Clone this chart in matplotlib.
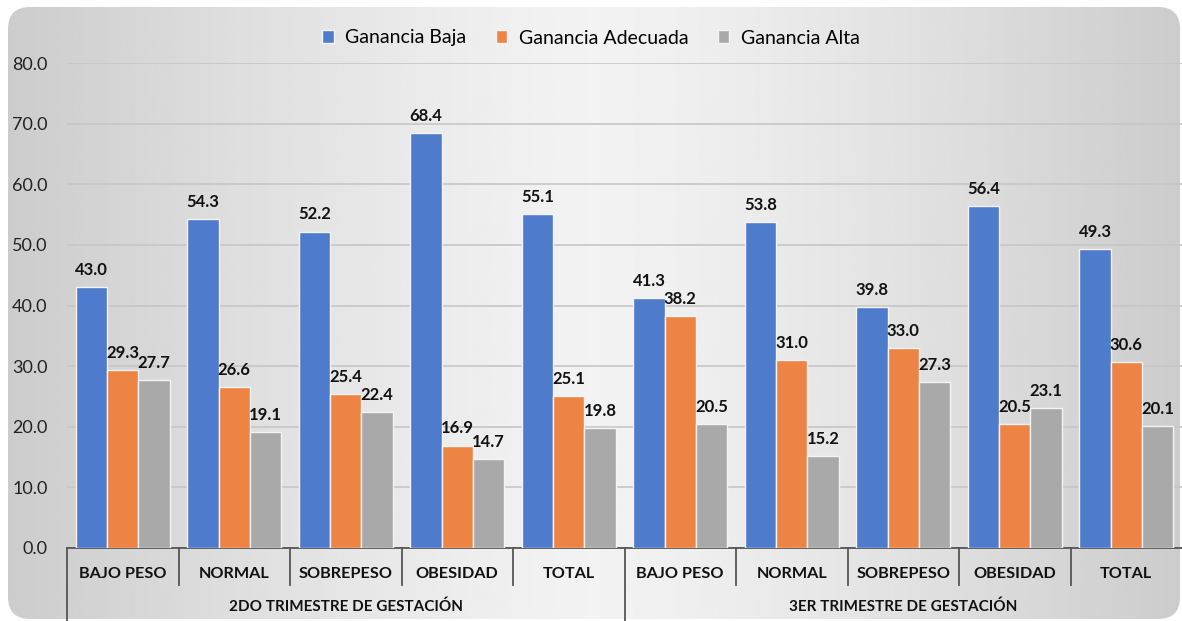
import matplotlib.pyplot as plt
import numpy as np
from matplotlib.patches import FancyBboxPatch
import matplotlib.transforms as mtrans

plt.rcParams['font.family'] = ['Lato', 'DejaVu Sans']

categorias = ['BAJO PESO', 'NORMAL', 'SOBREPESO', 'OBESIDAD', 'TOTAL',
              'BAJO PESO', 'NORMAL', 'SOBREPESO', 'OBESIDAD', 'TOTAL']
grupos = ['2DO TRIMESTRE DE GESTACIÓN', '3ER TRIMESTRE DE GESTACIÓN']
series = ['Ganancia Baja', 'Ganancia Adecuada', 'Ganancia Alta']
baja = [43.0, 54.3, 52.2, 68.4, 55.1, 41.3, 53.8, 39.8, 56.4, 49.3]
adecuada = [29.3, 26.6, 25.4, 16.9, 25.1, 38.2, 31.0, 33.0, 20.5, 30.6]
alta = [27.7, 19.1, 22.4, 14.7, 19.8, 20.5, 15.2, 27.3, 23.1, 20.1]
colores = ['#4f7bcd', '#ee8444', '#a9a9a9']

W, H = 1182, 621
fig = plt.figure(figsize=(W / 100, H / 100), dpi=100)

# fondo degradado con esquinas redondeadas
bg = fig.add_axes([0, 0, 1, 1], zorder=-10)
bg.set_xlim(0, W)
bg.set_ylim(0, H)
bg.axis('off')
xs = np.linspace(-1, 1, 400)
grad = 0.95 - 0.15 * np.abs(xs) ** 1.3
img = bg.imshow(np.tile(grad, (10, 1)), cmap='gray', vmin=0, vmax=1,
                extent=[8, 1180, 2, 614], aspect='auto')
box = FancyBboxPatch((8, 2), 1172, 612, boxstyle='round,pad=0,rounding_size=22',
                     facecolor='none', edgecolor='none', transform=bg.transData)
bg.add_patch(box)
img.set_clip_path(box)

ax = fig.add_axes([67 / W, (H - 548) / H, (W - 67) / W, 485 / H])
ax.set_facecolor('none')
x = np.arange(len(categorias))
bw = 0.28
for i, (vals, col) in enumerate(zip([baja, adecuada, alta], colores)):
    pos = x + (i - 1) * bw
    ax.bar(pos, vals, bw, color=col, edgecolor='#f4f4f4', linewidth=1,
           label=series[i], zorder=3)
    for px, v in zip(pos, vals):
        ax.text(px, v + 1.5, f'{v:.1f}', ha='center', va='bottom',
                fontsize=12, fontweight='bold', color='#111111', zorder=4)

ax.set_xlim(-0.5, len(categorias) - 0.5)
ax.set_ylim(0, 80)
ax.set_yticks(np.arange(0, 81, 10))
ax.set_yticklabels([f'{t:.1f}' for t in np.arange(0, 81, 10)], fontsize=13, color='#222222')
ax.tick_params(axis='y', length=0, pad=14)
ax.set_xticks([])
ax.grid(axis='y', color='#c6c6c6', linewidth=1.2, zorder=0)
for s in ['top', 'right', 'left']:
    ax.spines[s].set_visible(False)
ax.spines['bottom'].set_color('#555555')
ax.spines['bottom'].set_linewidth(1.3)

tr = mtrans.blended_transform_factory(ax.transData, ax.transAxes)
for i, c in enumerate(categorias):
    ax.text(i, -0.054, c, transform=tr, ha='center', va='center',
            fontsize=11.7, fontweight='bold', color='#111111')
for b in range(1, len(categorias)):
    bottom = -0.16 if b == 5 else -0.077
    ax.plot([b - 0.5, b - 0.5], [0, bottom], transform=tr, color='#555555',
            linewidth=1.3, clip_on=False)
ax.plot([-0.5, -0.5], [0, -0.16], transform=tr, color='#555555',
        linewidth=1.3, clip_on=False)
for g, name in enumerate(grupos):
    ax.text(g * 5 + 2, -0.122, name, transform=tr, ha='center', va='center',
            fontsize=11, fontweight='bold', color='#111111')

fig.legend(loc='center', bbox_to_anchor=(0.5, 1 - 38 / H), ncol=3, frameon=False,
           fontsize=14, handlelength=0.6, handleheight=0.6, columnspacing=1.5,
           handletextpad=0.6)

fig.savefig('out.png', dpi=100)
